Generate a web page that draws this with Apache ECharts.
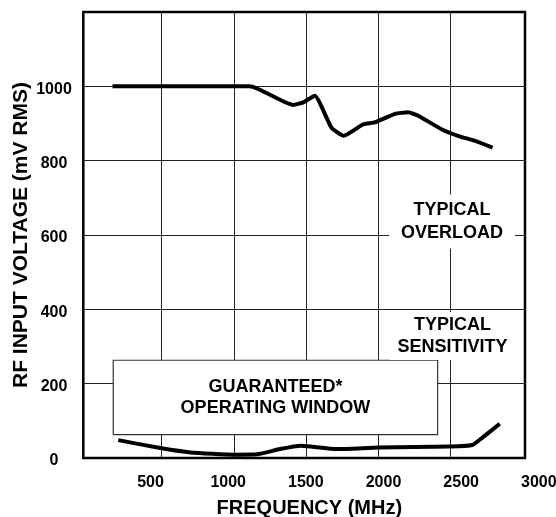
<!DOCTYPE html>
<html><head><meta charset="utf-8">
<script src="https://cdn.jsdelivr.net/npm/echarts@6/dist/echarts.min.js"></script>
<style>html,body{margin:0;padding:0;background:#fff}#c{width:556px;height:517px}</style>
</head><body><div id="c"></div>
<script>
const overloadFreq = [160, 1110, 1410, 1480, 1560, 1675, 1760, 1895, 1975, 2115, 2205, 2275, 2440, 2550, 2670, 2790];
const overloadMv   = [1000, 1000, 950, 957, 975, 889, 867, 898, 903, 926, 930, 921, 884, 867, 853, 835];
const sensFreq = [200, 500, 700, 1000, 1160, 1320, 1460, 1530, 1710, 2000, 2500, 2650, 2720, 2840];
const sensMv   = [48, 26, 15, 9, 10, 24, 33, 31, 24, 28, 31, 35, 55, 92];
const xTickValues = [500, 1000, 1500, 2000, 2500, 3000];
const yTickValues = [0, 200, 400, 600, 800, 1000];
const xTitle = 'FREQUENCY (MHz)';
const yTitle = 'RF INPUT VOLTAGE (mV RMS)';
const windowText = 'GUARANTEED*\nOPERATING WINDOW';
const overloadText = 'TYPICAL\nOVERLOAD';
const sensText = 'TYPICAL\nSENSITIVITY';

const FONT = 'Liberation Sans';
const pair = (xs, ys) => xs.map((x, i) => [x, ys[i]]);
const plain = v => String(v);
const chart = echarts.init(document.getElementById('c'), null, {renderer: 'canvas'});
const gridLine = {show: true, lineStyle: {color: '#222', width: 1}};
chart.setOption({
  backgroundColor: '#fff',
  animation: false,
  grid: [
    {left: 83.3, width: 441.7, top: 12, height: 446, outerBoundsMode: 'none', containLabel: false, show: true, borderColor: '#000', borderWidth: 2.5, backgroundColor: 'transparent'},
    {left: 89.4, width: 433.5, top: 12, height: 446, outerBoundsMode: 'none', containLabel: false},
    {left: 72.9, width: 465.9, top: 12, height: 446, outerBoundsMode: 'none', containLabel: false}
  ],
  xAxis: [
    {gridIndex: 0, type: 'value', min: 0, max: 3000, show: false},
    {gridIndex: 1, type: 'value', min: 0, max: 3000, interval: 500,
      axisLine: {show: false}, axisTick: {show: false}, axisLabel: {show: false},
      splitLine: Object.assign({showMinLine: false, showMaxLine: false}, gridLine)},
    {gridIndex: 2, type: 'value', min: 0, max: 3000, interval: 500,
      axisLine: {show: false}, axisTick: {show: false}, splitLine: {show: false},
      axisLabel: {customValues: xTickValues, formatter: plain, margin: 17, fontFamily: FONT, fontWeight: 'bold', fontSize: 16, color: '#000'},
      name: xTitle, nameLocation: 'middle', nameGap: 40, nameMoveOverlap: false,
      nameTextStyle: {fontFamily: FONT, fontWeight: 'bold', fontSize: 20, color: '#000', padding: [0, 0, 0, 7]}}
  ],
  yAxis: [
    {gridIndex: 0, type: 'value', min: 0, max: 1200, interval: 200,
      axisLine: {show: false}, axisTick: {show: false},
      splitLine: Object.assign({showMinLine: false, showMaxLine: false}, gridLine),
      axisLabel: {customValues: yTickValues, formatter: plain, margin: 29.3, align: 'center', verticalAlign: 'top', lineHeight: 6,
        fontFamily: FONT, fontWeight: 'bold', fontSize: 16, color: '#000'},
      name: yTitle, nameLocation: 'middle', nameGap: 52, nameRotate: 90, nameMoveOverlap: false,
      nameTextStyle: {fontFamily: FONT, fontWeight: 'bold', fontSize: 21, color: '#000'}},
    {gridIndex: 1, type: 'value', min: 0, max: 1200, show: false},
    {gridIndex: 2, type: 'value', min: 0, max: 1200, show: false}
  ],
  series: [
    {type: 'line', xAxisIndex: 1, yAxisIndex: 1, data: pair(overloadFreq, overloadMv),
      symbol: 'none', smooth: 0.15, lineStyle: {color: '#000', width: 4, join: 'round', cap: 'butt'},
      markPoint: {symbol: 'rect', symbolSize: 0, silent: true,
        data: [
          {coord: [2510, 636], label: {show: true, position: 'inside', formatter: overloadText, backgroundColor: '#fff',
            padding: [4, 12], lineHeight: 23, fontFamily: FONT, fontWeight: 'bold', fontSize: 18, color: '#000'}},
          {coord: [2513, 328], label: {show: true, position: 'inside', formatter: sensText, backgroundColor: '#fff',
            padding: [2, 8], lineHeight: 22, fontFamily: FONT, fontWeight: 'bold', fontSize: 18, color: '#000'}}
        ]}},
    {type: 'line', xAxisIndex: 1, yAxisIndex: 1, data: pair(sensFreq, sensMv),
      symbol: 'none', smooth: 0.15, lineStyle: {color: '#000', width: 4, join: 'round', cap: 'butt'},
      markArea: {silent: true,
        itemStyle: {color: '#fff', borderColor: '#333', borderWidth: 1.2},
        label: {show: true, position: 'inside', formatter: windowText, lineHeight: 21.4,
          fontFamily: FONT, fontWeight: 'bold', fontSize: 18, color: '#000'},
        data: [[{coord: [165, 263]}, {coord: [2410, 63]}]]}}
  ]
});
</script></body></html>
